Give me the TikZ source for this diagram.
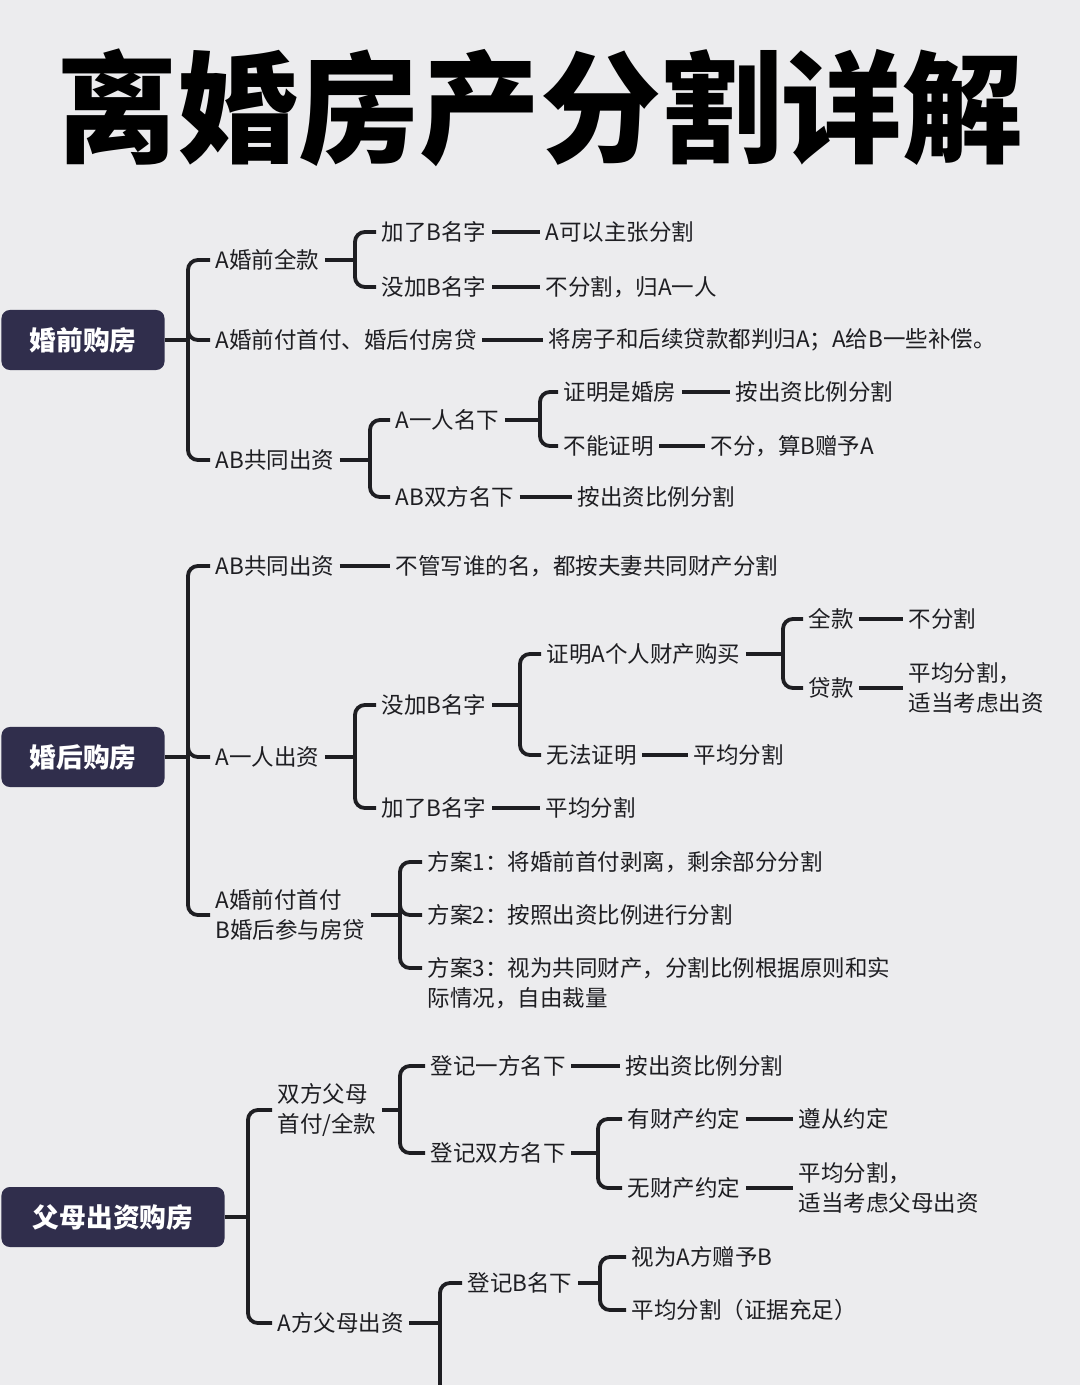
\documentclass[tikz,border=0pt]{standalone}
\usepackage{fontspec}
\setmainfont{Noto Sans CJK SC}
\usetikzlibrary{calc}
\definecolor{bgcol}{HTML}{ECECEE}
\definecolor{boxcol}{HTML}{302E4C}
\definecolor{inkcol}{HTML}{1E1E22}

\begin{document}
\begin{tikzpicture}[
  x=0.025cm, y=-0.025cm,
  txt/.style={anchor=west, inner sep=0pt, outer sep=4pt, text=inkcol, font=\fontsize{16}{21}\selectfont, align=left},
  topic/.style={fill=boxcol, rounded corners=6pt, text=white, font=\fontsize{19}{22}\selectfont\bfseries, minimum height=1.5cm, inner sep=0pt, outer sep=0pt},
  conn/.style={line width=2.7pt, draw=inkcol, rounded corners=7pt},
  link/.style={line width=2.7pt, draw=inkcol}
]
\fill[bgcol] (0,0) rectangle (1080,1385);
\useasboundingbox (0,0) rectangle (1080,1385);

\node[text=black, font=\fontsize{86}{90}\selectfont\bfseries] (title) at (540,108) {离婚房产分割详解};

% 婚前购房
\node[topic, minimum width=4.075cm] (pre) at (83,340) {婚前购房};
\node[txt] (p1) at (210,260) {A婚前全款};
\node[txt] (p11) at (376,232) {加了B名字};
\node[txt] (p11r) at (540,232) {A可以主张分割};
\node[txt] (p12) at (376,287) {没加B名字};
\node[txt] (p12r) at (540,287) {不分割，归A一人};
\node[txt] (p2) at (210,340) {A婚前付首付、婚后付房贷};
\node[txt] (p2r) at (543,340) {将房子和后续贷款都判归A；A给B一些补偿。};
\node[txt] (p3) at (210,460) {AB共同出资};
\node[txt] (p31) at (390,420) {A一人名下};
\node[txt] (p311) at (558,392) {证明是婚房};
\node[txt] (p311r) at (730,392) {按出资比例分割};
\node[txt] (p312) at (558,446) {不能证明};
\node[txt] (p312r) at (705,446) {不分，算B赠予A};
\node[txt] (p32) at (390,497) {AB双方名下};
\node[txt] (p32r) at (572,497) {按出资比例分割};

\draw[link] (pre.east) -- (188,340);
\foreach \c in {p1,p2,p3} \draw[conn] (188,340) |- (\c.west);
\draw[link] (p1.east) -- (355,260);
\foreach \c in {p11,p12} \draw[conn] (355,260) |- (\c.west);
\draw[link] (p3.east) -- (370,460);
\foreach \c in {p31,p32} \draw[conn] (370,460) |- (\c.west);
\draw[link] (p31.east) -- (540,420);
\foreach \c in {p311,p312} \draw[conn] (540,420) |- (\c.west);
\foreach \a/\b in {p11/p11r,p12/p12r,p2/p2r,p311/p311r,p312/p312r,p32/p32r}
  \draw[link] (\a.east) -- (\b.west);

% 婚后购房
\node[topic, minimum width=4.075cm] (post) at (83,757) {婚后购房};
\node[txt] (q1) at (210,566) {AB共同出资};
\node[txt] (q1r) at (390,566) {不管写谁的名，都按夫妻共同财产分割};
\node[txt] (q2) at (210,757) {A一人出资};
\node[txt] (q21) at (376,705) {没加B名字};
\node[txt] (q211) at (541,654) {证明A个人财产购买};
\node[txt] (q2111) at (803,619) {全款};
\node[txt] (q2111r) at (903,619) {不分割};
\node[txt] (q2112) at (803,688) {贷款};
\node[txt] (q2112r) at (903,688) {平均分割，\\适当考虑出资};
\node[txt] (q212) at (541,755) {无法证明};
\node[txt] (q212r) at (688,755) {平均分割};
\node[txt] (q22) at (376,808) {加了B名字};
\node[txt] (q22r) at (540,808) {平均分割};
\node[txt] (q3) at (210,915) {A婚前付首付\\B婚后参与房贷};
\node[txt] (q31) at (422,862) {方案1：将婚前首付剥离，剩余部分分割};
\node[txt] (q32) at (422,915) {方案2：按照出资比例进行分割};
\node[txt, anchor=north west] (q33) at (422,952) {方案3：视为共同财产，分割比例根据原则和实\\际情况，自由裁量};
\coordinate (q33in) at ($(q33.north west)+(0,16)$);

\draw[link] (post.east) -- (188,757);
\foreach \c in {q1,q2,q3} \draw[conn] (188,757) |- (\c.west);
\draw[link] (q2.east) -- (355,757);
\foreach \c in {q21,q22} \draw[conn] (355,757) |- (\c.west);
\draw[link] (q21.east) -- (520,705);
\foreach \c in {q211,q212} \draw[conn] (520,705) |- (\c.west);
\draw[link] (q211.east) -- (783,654);
\foreach \c in {q2111,q2112} \draw[conn] (783,654) |- (\c.west);
\draw[link] (q3.east) -- (400,915);
\foreach \c in {q31,q32,q33in} \draw[conn] (400,915) |- (\c);
\foreach \a/\b in {q1/q1r,q2111/q2111r,q2112/q2112r,q212/q212r,q22/q22r}
  \draw[link] (\a.east) -- (\b.west);

% 父母出资购房
\node[topic, minimum width=5.575cm] (par) at (113,1217) {父母出资购房};
\node[txt] (r1) at (272,1110) {双方父母\\首付/全款};
\node[txt] (r11) at (425,1066) {登记一方名下};
\node[txt] (r11r) at (620,1066) {按出资比例分割};
\node[txt] (r12) at (425,1153) {登记双方名下};
\node[txt] (r121) at (622,1119) {有财产约定};
\node[txt] (r121r) at (793,1119) {遵从约定};
\node[txt] (r122) at (622,1188) {无财产约定};
\node[txt] (r122r) at (793,1188) {平均分割，\\适当考虑父母出资};
\node[txt] (r2) at (272,1323) {A方父母出资};
\node[txt] (r21) at (462,1283) {登记B名下};
\node[txt] (r211) at (626,1257) {视为A方赠予B};
\node[txt] (r212) at (626,1310) {平均分割（证据充足）};
\coordinate (r2end) at (440,1385);

\draw[link] (par.east) -- (248,1217);
\foreach \c in {r1,r2} \draw[conn] (248,1217) |- (\c.west);
\draw[link] (r1.east) -- (400,1110);
\foreach \c in {r11,r12} \draw[conn] (400,1110) |- (\c.west);
\draw[link] (r12.east) -- (598,1153);
\foreach \c in {r121,r122} \draw[conn] (598,1153) |- (\c.west);
\draw[link] (r2.east) -- (440,1323);
\draw[conn] (440,1323) |- (r21.west);
\draw[link] (440,1323) -- (r2end);
\draw[link] (r21.east) -- (600,1283);
\foreach \c in {r211,r212} \draw[conn] (600,1283) |- (\c.west);
\foreach \a/\b in {r11/r11r,r121/r121r,r122/r122r}
  \draw[link] (\a.east) -- (\b.west);
\end{tikzpicture}
\end{document}
